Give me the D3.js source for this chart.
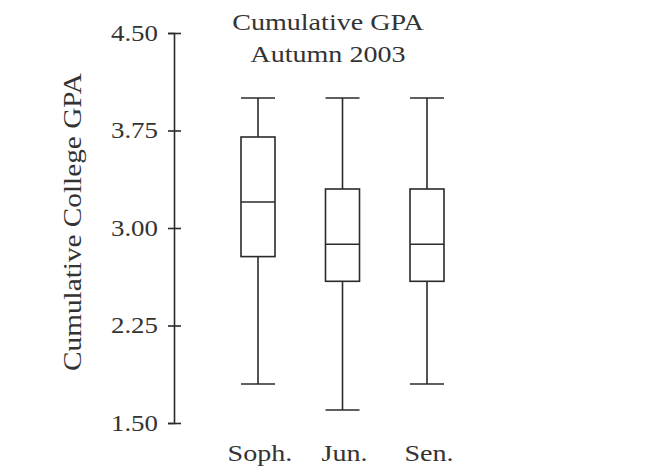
<!DOCTYPE html>
<html><head><meta charset="utf-8">
<script src="https://cdn.jsdelivr.net/npm/d3@7"></script>
<style>
html,body{margin:0;padding:0;background:#fff;}
text{font-family:"Liberation Serif","DejaVu Serif",serif;fill:#333;}
</style></head>
<body><svg id="c" width="650" height="473"></svg>
<script>
const categories = ["Soph.", "Jun.", "Sen."];
const whiskerLow  = [1.80, 1.60, 1.80];
const quartile1   = [2.78, 2.59, 2.59];
const medians     = [3.20, 2.875, 2.875];
const quartile3   = [3.70, 3.30, 3.30];
const whiskerHigh = [4.00, 4.00, 4.00];
const yTicks = [1.50, 2.25, 3.00, 3.75, 4.50];
const titleLines = ["Cumulative GPA", "Autumn 2003"];
const yLabel = "Cumulative College GPA";

const svg = d3.select("#c");
const ink = "#2a2a2a";
const widen = 1.17; // Palatino-like width from a Times-like font

const y = d3.scaleLinear().domain([1.5, 4.5]).range([423, 33]);
const x = d3.scalePoint().domain(categories).range([258, 427]);
const boxW = 34;

function stretch(sel){
  sel.each(function(){
    const w = this.getComputedTextLength();
    d3.select(this).attr("textLength", w*widen).attr("lengthAdjust","spacingAndGlyphs");
  });
}

// axis
const axis = d3.axisLeft(y).tickValues(yTicks).tickFormat(d3.format(".2f")).tickSizeOuter(0).tickSize(6).tickPadding(10);
const ag = svg.append("g").attr("transform","translate(174,0)").call(axis);
ag.select(".domain").attr("stroke", ink).attr("stroke-width",1.6);
ag.selectAll(".tick line").attr("stroke", ink).attr("stroke-width",1.6).attr("x1",7).attr("x2",-6);
ag.selectAll(".tick text").attr("font-size",23).attr("font-family","Liberation Serif").attr("fill","#333").attr("x",-16).call(stretch);

// boxes
const data = categories.map((c,i)=>({c, lo:whiskerLow[i], q1:quartile1[i], md:medians[i], q3:quartile3[i], hi:whiskerHigh[i]}));
const g = svg.append("g").attr("stroke", ink).attr("stroke-width",1.6).attr("fill","none");
const b = g.selectAll("g").data(data).join("g");
b.append("line").attr("x1",d=>x(d.c)).attr("x2",d=>x(d.c)).attr("y1",d=>y(d.hi)).attr("y2",d=>y(d.q3));
b.append("line").attr("x1",d=>x(d.c)).attr("x2",d=>x(d.c)).attr("y1",d=>y(d.q1)).attr("y2",d=>y(d.lo));
b.append("line").attr("x1",d=>x(d.c)-boxW/2).attr("x2",d=>x(d.c)+boxW/2).attr("y1",d=>y(d.hi)).attr("y2",d=>y(d.hi));
b.append("line").attr("x1",d=>x(d.c)-boxW/2).attr("x2",d=>x(d.c)+boxW/2).attr("y1",d=>y(d.lo)).attr("y2",d=>y(d.lo));
b.append("rect").attr("x",d=>x(d.c)-boxW/2).attr("width",boxW).attr("y",d=>y(d.q3)).attr("height",d=>y(d.q1)-y(d.q3));
b.append("line").attr("x1",d=>x(d.c)-boxW/2).attr("x2",d=>x(d.c)+boxW/2).attr("y1",d=>y(d.md)).attr("y2",d=>y(d.md));

// category labels
svg.append("g").selectAll("text").data(categories).join("text")
  .attr("x",d=>x(d)+2).attr("y",461).attr("text-anchor","middle").attr("font-size",24).text(d=>d).call(stretch);

// title
svg.append("g").selectAll("text").data(titleLines).join("text")
  .attr("x",328).attr("y",(d,i)=>30+i*32).attr("text-anchor","middle").attr("font-size",24).text(d=>d).call(stretch);

// y label
svg.append("text").attr("transform","translate(81,222) rotate(-90)").attr("text-anchor","middle")
  .attr("font-size",25).text(yLabel).call(stretch);
</script></body></html>
